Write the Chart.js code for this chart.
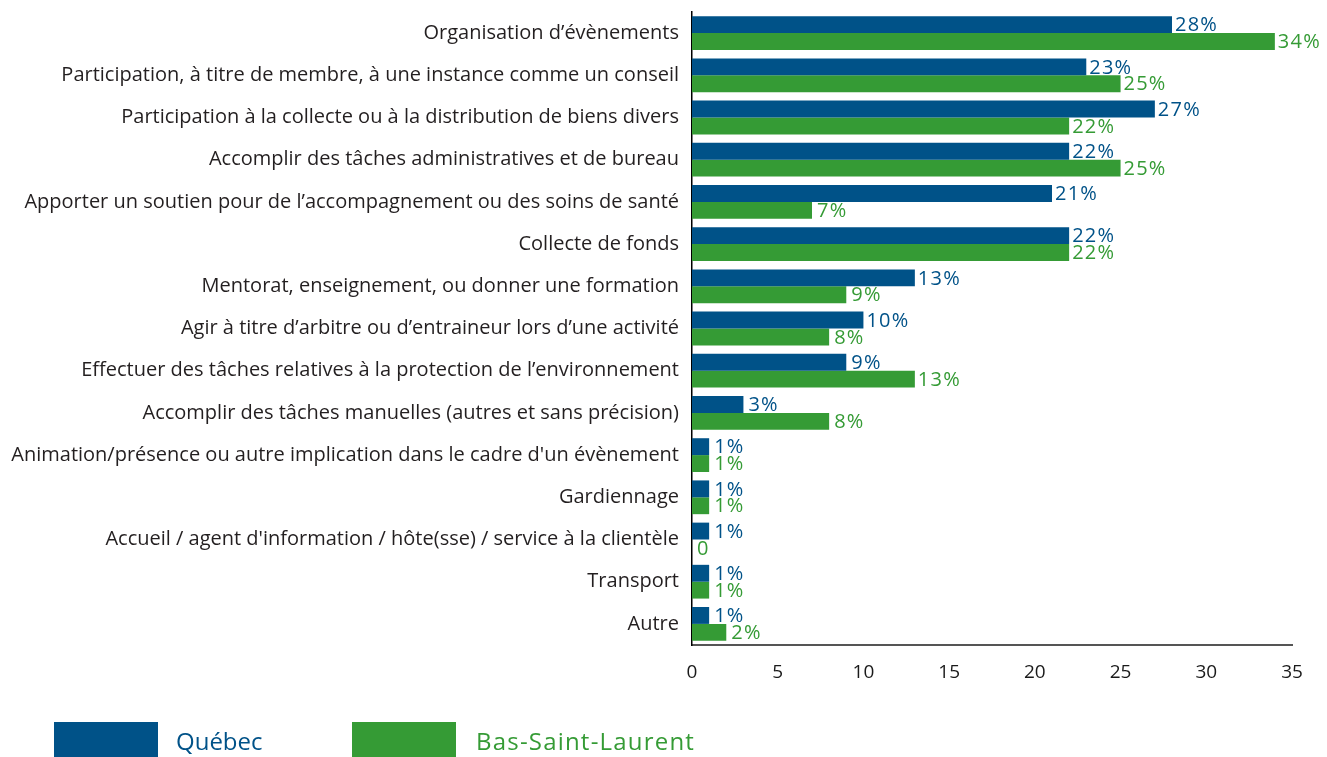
<!DOCTYPE html>
<html>
<head>
<meta charset="utf-8">
<script src="https://cdn.jsdelivr.net/npm/chart.js@4.4.1/dist/chart.umd.min.js"></script>
<style>
    html, body { margin: 0; padding: 0; background: #fff; }
    #wrap { width: 1327px; height: 757px; position: relative; }
</style>
</head>
<body>
<div id="wrap"><canvas id="chart"></canvas></div>
<script>
// Categories (top to bottom)
const categories = [
    "Organisation d\u2019évènements",
    "Participation, à titre de membre, à une instance comme un conseil",
    "Participation à la collecte ou à la distribution de biens divers",
    "Accomplir des tâches administratives et de bureau",
    "Apporter un soutien pour de l\u2019accompagnement ou des soins de santé",
    "Collecte de fonds",
    "Mentorat, enseignement, ou donner une formation",
    "Agir à titre d\u2019arbitre ou d\u2019entraineur lors d\u2019une activité",
    "Effectuer des tâches relatives à la protection de l\u2019environnement",
    "Accomplir des tâches manuelles (autres et sans précision)",
    "Animation/présence ou autre implication dans le cadre d'un évènement",
    "Gardiennage",
    "Accueil / agent d'information / hôte(sse) / service à la clientèle",
    "Transport",
    "Autre"
];

const quebecValues = [28, 23, 27, 22, 21, 22, 13, 10, 9, 3, 1, 1, 1, 1, 1];
const bslValues = [34, 25, 22, 25, 7, 22, 9, 8, 13, 8, 1, 1, 0, 1, 2];

const quebecLabels = ["28%", "23%", "27%", "22%", "21%", "22%", "13%", "10%", "9%", "3%", "1%", "1%", "1%", "1%", "1%"];
const bslLabels = ["34%", "25%", "22%", "25%", "7%", "22%", "9%", "8%", "13%", "8%", "1%", "1%", "0", "1%", "2%"];

const xTicks = [0, 5, 10, 15, 20, 25, 30, 35];

const BLUE = '#005288';
const GREEN = '#359b35';
const FONT = '"Open Sans", "Noto Sans", sans-serif';

// value labels at the end of each bar
const valueLabels = {
    id: 'valueLabels',
    afterDatasetsDraw(chart) {
        const ctx = chart.ctx;
        ctx.save();
        ctx.font = '20px ' + FONT;
        ctx.letterSpacing = '1.2px';
        ctx.textAlign = 'left';
        ctx.textBaseline = 'middle';
        chart.data.datasets.forEach((ds, di) => {
            const meta = chart.getDatasetMeta(di);
            meta.data.forEach((bar, i) => {
                const txt = ds.valueLabels[i];
                ctx.fillStyle = ds.backgroundColor;
                ctx.fillText(txt, bar.x + (txt.length < 3 ? 5 : 3), bar.y + 1);
            });
        });
        ctx.restore();
    }
};

// big-box legend under the axis
const bottomLegend = {
    id: 'bottomLegend',
    afterDraw(chart) {
        const ctx = chart.ctx;
        const items = [
            { text: 'Québec', color: BLUE, x: 54, tx: 176, sp: '0px' },
            { text: 'Bas-Saint-Laurent', color: GREEN, x: 352, tx: 476, sp: '1.2px' }
        ];
        ctx.save();
        ctx.font = '24px ' + FONT;
        ctx.textBaseline = 'middle';
        ctx.textAlign = 'left';
        items.forEach(it => {
            ctx.fillStyle = it.color;
            ctx.fillRect(it.x, 722, 104, 36);
            ctx.letterSpacing = it.sp;
            ctx.fillText(it.text, it.tx, 743);
        });
        ctx.restore();
    }
};

new Chart(document.getElementById('chart'), {
    type: 'bar',
    data: {
        labels: categories,
        datasets: [
            {
                label: 'Québec',
                data: quebecValues,
                valueLabels: quebecLabels,
                backgroundColor: BLUE,
                categoryPercentage: 0.8,
                barPercentage: 1.0
            },
            {
                label: 'Bas-Saint-Laurent',
                data: bslValues,
                valueLabels: bslLabels,
                backgroundColor: GREEN,
                categoryPercentage: 0.8,
                barPercentage: 1.0
            }
        ]
    },
    options: {
        indexAxis: 'y',
        responsive: true,
        maintainAspectRatio: false,
        animation: false,
        layout: { padding: { top: 12, right: 35, bottom: 0, left: 0 } },
        plugins: {
            legend: { display: false },
            tooltip: { enabled: false }
        },
        scales: {
            x: {
                min: 0,
                max: 35,
                afterBuildTicks: (scale) => { scale.ticks = xTicks.map(v => ({ value: v })); },
                afterFit: (scale) => { scale.height = 112; },
                grid: { display: false, drawTicks: false },
                border: { display: true, color: '#555', width: 2 },
                ticks: {
                    color: '#1a1a1a',
                    padding: 16,
                    font: { family: FONT, size: 19 }
                }
            },
            y: {
                afterFit: (scale) => {
                    scale.width = 692;
                    scale.paddingTop = 0;
                    scale.paddingBottom = 0;
                },
                grid: { display: false, drawTicks: false },
                border: { display: true, color: '#000', width: 1.5 },
                ticks: {
                    color: '#231f20',
                    padding: 13,
                    autoSkip: false,
                    font: { family: FONT, size: 20 }
                }
            }
        }
    },
    plugins: [valueLabels, bottomLegend]
});
</script>
</body>
</html>
